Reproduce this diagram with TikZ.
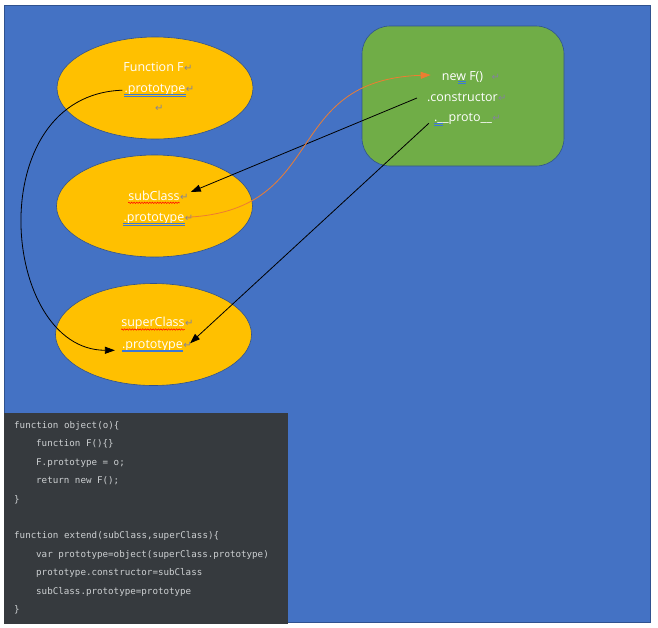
\documentclass[tikz,border=0pt]{standalone}
\usepackage{fontspec}
\setmainfont{Open Sans}
\newfontfamily\codefont{DejaVu Sans Mono}
\newfontfamily\markfont{DejaVu Sans}
\usetikzlibrary{shapes.geometric,arrows.meta,calc,decorations.pathmorphing}
\definecolor{bgblue}{HTML}{4472C4}
\definecolor{edgeblue}{HTML}{2F528F}
\definecolor{gold}{HTML}{FFC000}
\definecolor{leaf}{HTML}{70AD47}
\definecolor{leafedge}{HTML}{507E32}
\definecolor{flow}{HTML}{ED7D31}
\definecolor{codebg}{HTML}{363A3E}
\definecolor{codefg}{HTML}{CDD0D2}
\definecolor{ulblue}{HTML}{3C78D8}
\definecolor{markgray}{HTML}{84849A}
\newcommand\dblunder[1]{%
  \draw[ulblue,line width=0.6pt]
    ([yshift=-1.6pt]#1.base west) -- ([yshift=-1.6pt]#1.base east)
    ([yshift=-3.4pt]#1.base west) -- ([yshift=-3.4pt]#1.base east);}
\newcommand\wavyunder[1]{%
  \draw[red,line width=0.5pt,decorate,decoration={snake,amplitude=0.7pt,segment length=2.6pt}]
    ([yshift=-2.8pt]#1.base west) -- ([yshift=-2.8pt]#1.base east);}
\tikzset{
  x=1pt,y=-1pt,
  blob/.style={ellipse,fill=gold,draw=edgeblue,line width=0.6pt,
    minimum width=196pt,minimum height=102pt,inner sep=0pt},
  lbl/.style={text=white,inner sep=0pt,anchor=base,font=\fontsize{12.5}{14}\selectfont},
  retmark/.style={text=markgray,inner sep=0pt,anchor=base west,font=\markfont\fontsize{10}{11}\selectfont},
  codeline/.style={text=codefg,inner sep=0pt,anchor=base west,font=\codefont\fontsize{9.2}{11}\selectfont},
  link/.style={line width=0.8pt,-{Triangle[length=10pt,width=7pt]}},
}
\begin{document}
\begin{tikzpicture}
\useasboundingbox (0,0) rectangle (658,627);
% backdrop
\draw[fill=bgblue,draw=edgeblue,line width=1pt] (4.5,5) rectangle (650,622);

% shapes
\node[blob] (fell) at (155,88) {};
\node[blob] (subell) at (154.5,206) {};
\node[blob] (supell) at (153.5,334.5) {};
\node[draw=edgeblue,fill=leaf,line width=0.6pt,rounded corners=28pt,
      minimum width=202pt,minimum height=140pt,inner sep=0pt] (obj) at (463,96) {};

% labels in Function F
\node[lbl] (fname) at (153.5,71.7) {Function F};
\node[retmark] (fnameret) at (fname.base east) {↵};
\node[lbl] (fproto) at (155,92.7) {.prototype};
\node[retmark] (fprotoret) at (fproto.base east) {↵};
\node[retmark] (fblank) at (155,111) {↵};
\dblunder{fproto}

% labels in subClass
\node[lbl] (subname) at (154,200) {subClass};
\node[retmark] (subret) at (subname.base east) {↵};
\node[lbl] (subproto) at (154,221.7) {.prototype};
\node[retmark] (subprotoret) at (subproto.base east) {↵};
\wavyunder{subname}
\dblunder{subproto}

% labels in superClass
\node[lbl] (supname) at (153,326.7) {superClass};
\node[retmark] (supret) at (supname.base east) {↵};
\node[lbl] (supproto) at (152.5,348.3) {.prototype};
\node[retmark] (supprotoret) at (supproto.base east) {↵};
\wavyunder{supname}
\dblunder{supproto}

% labels in the object box
\node[lbl] (newf) at (462.5,80) {new F()};
\node[retmark] (newfret) at ($(newf.base east)+(8,0)$) {↵};
\node[lbl] (ctor) at (462.5,101) {.constructor};
\node[retmark] (ctorret) at (ctor.base east) {↵};
\node[lbl] (proto) at (463,121.7) {.\_\_proto\_\_};
\node[retmark] (protoret) at (proto.base east) {↵};
\draw[ulblue,line width=0.6pt]
  ($(newf.base west)+(16.5,1.6)$) -- ($(newf.base west)+(24.5,1.6)$)
  ($(newf.base west)+(16.5,3.4)$) -- ($(newf.base west)+(24.5,3.4)$)
  ($(proto.base west)+(0,1.6)$) -- ($(proto.base west)+(9,1.6)$)
  ($(proto.base west)+(0,3.4)$) -- ($(proto.base west)+(9,3.4)$);

% connectors
\draw[link,black] ($(fproto.base west)+(-2,-2.5)$)
  .. controls (-20,95) and (0,350) .. ($(supproto.base west)+(-7,2)$);
\draw[link,black] ($(ctor.base west)+(-10,-3)$) -- ($(subname.base east)+(11,-8)$);
\draw[link,black] ($(proto.base west)+(-5,1.5)$) -- ($(supproto.base east)+(7,-5)$);
\draw[link,flow] ($(subproto.base east)+(3,-4.5)$)
  .. controls (330,210) and (280,80) .. ($(newf.base west)+(-11,-5)$);

% code panel
\node[fill=codebg,minimum width=284pt,minimum height=211pt,inner sep=0pt,anchor=north west] (code) at (4,413) {};
\node[codeline] (c1) at (14,428) {function object(o)\{};
\node[codeline] (c2) at (36,446.5) {function F()\{\}};
\node[codeline] (c3) at (36,465) {F.prototype = o;};
\node[codeline] (c4) at (36,483.5) {return new F();};
\node[codeline] (c5) at (14,502) {\}};
\node[codeline] (c6) at (14,538.5) {function extend(subClass,superClass)\{};
\node[codeline] (c7) at (36,557) {var prototype=object(superClass.prototype)};
\node[codeline] (c8) at (36,575.5) {prototype.constructor=subClass};
\node[codeline] (c9) at (36,594) {subClass.prototype=prototype};
\node[codeline] (c10) at (14,612) {\}};
\end{tikzpicture}
\end{document}
